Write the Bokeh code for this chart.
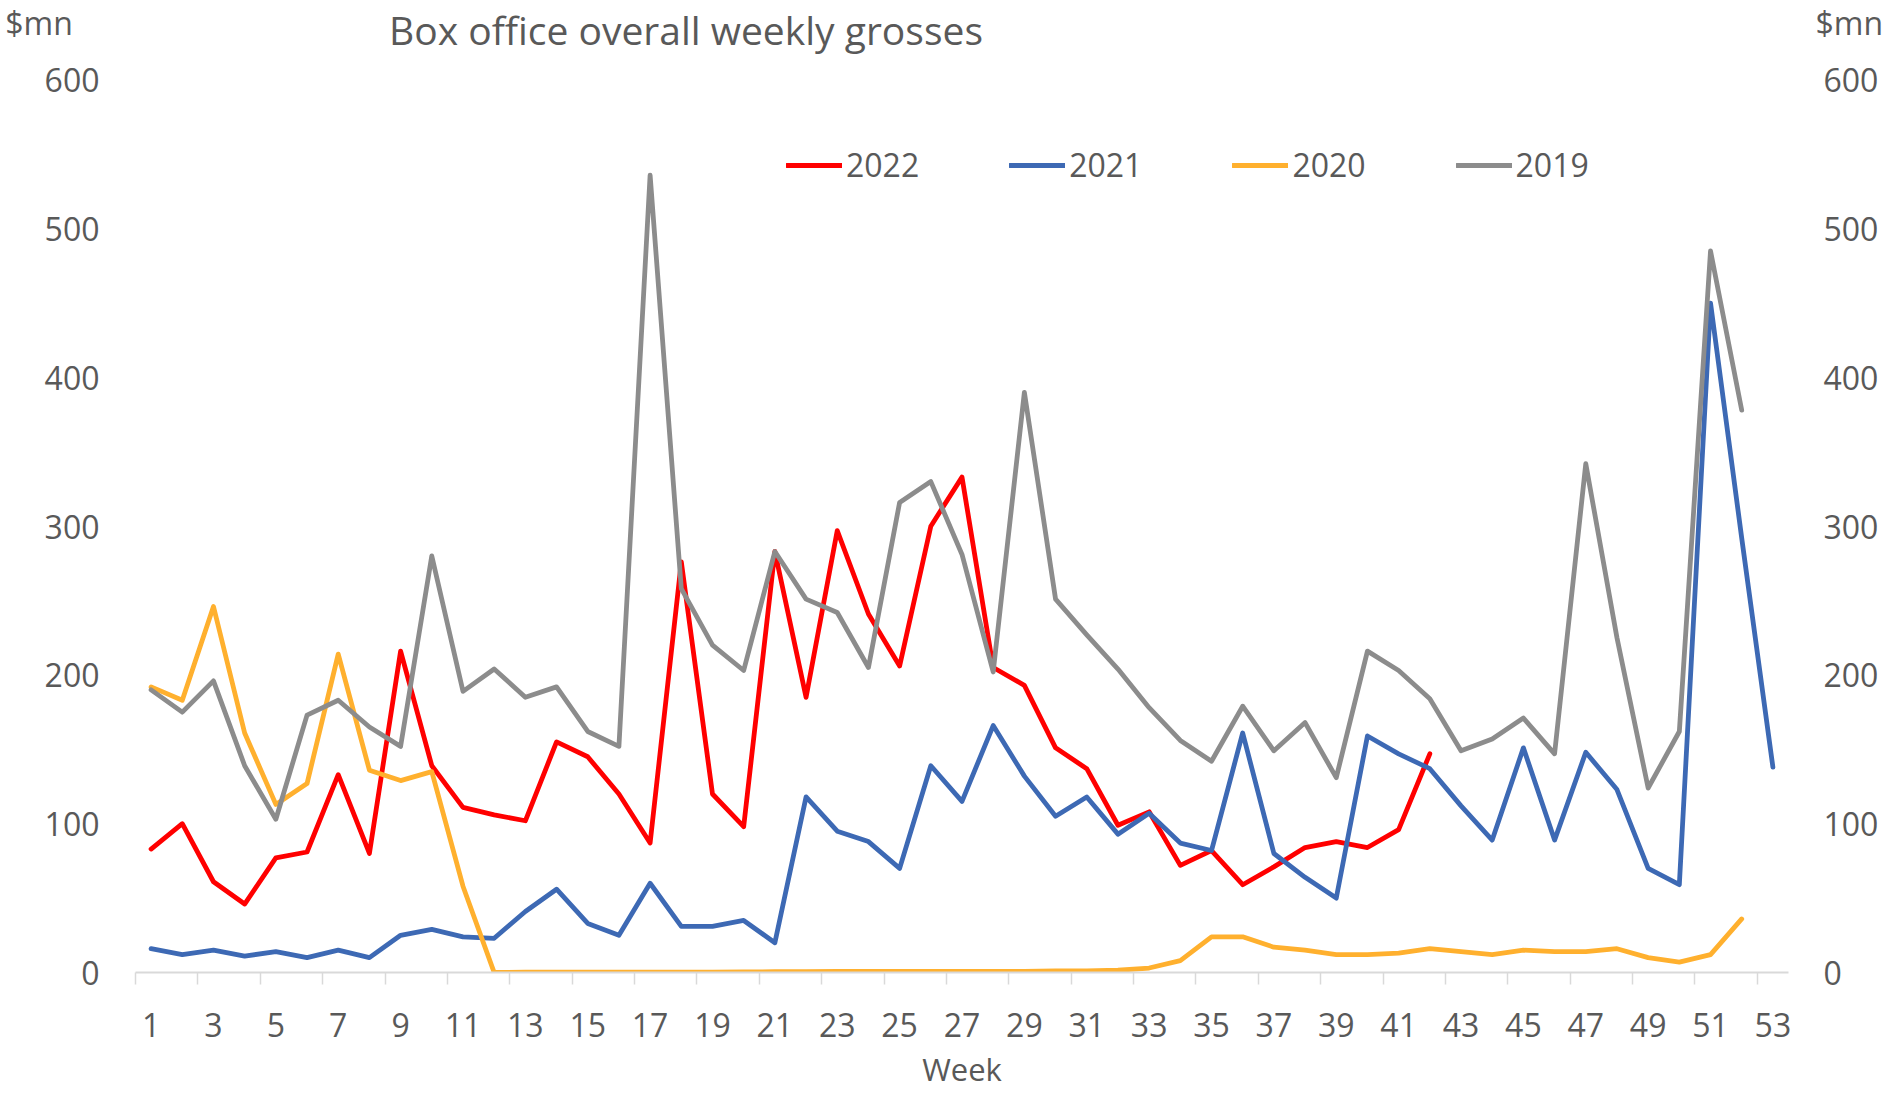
from bokeh.plotting import figure
from bokeh.models import (LinearAxis, FixedTicker, Range1d, Label, Legend, LegendItem)
from bokeh.embed import file_html
from bokeh.resources import INLINE

# ---------------- data ----------------
weeks_2022 = list(range(1, 43))
gross_2022 = [83, 100, 61, 46, 77, 81, 133, 80, 216, 139, 111, 106, 102, 155, 145, 120,
              87, 276, 120, 98, 283, 185, 297, 241, 206, 300, 333, 205, 193, 151, 137, 99,
              108, 72, 82, 59, 71, 84, 88, 84, 96, 147]

weeks_2021 = list(range(1, 54))
gross_2021 = [16, 12, 15, 11, 14, 10, 15, 10, 25, 29, 24, 23, 41, 56, 33, 25, 60, 31, 31,
              35, 20, 118, 95, 88, 70, 139, 115, 166, 132, 105, 118, 93, 107, 87, 82, 161,
              80, 64, 50, 159, 147, 137, 112, 89, 151, 89, 148, 123, 70, 59, 450, 292, 138]

weeks_2020 = list(range(1, 53))
gross_2020 = [192, 183, 246, 161, 113, 127, 214, 136, 129, 135, 58, 0,
              0.2, 0.2, 0.2, 0.2, 0.3, 0.3, 0.3, 0.4, 0.5, 0.6, 0.8, 0.8, 0.8, 0.7, 0.8,
              0.7, 0.7, 1, 1, 1.5,
              3, 8, 24, 24, 17, 15, 12, 12, 13, 16, 14, 12, 15, 14, 14, 16, 10, 7, 12, 36]

weeks_2019 = list(range(1, 53))
gross_2019 = [190, 175, 196, 139, 103, 173, 183, 165, 152, 280, 189, 204, 185, 192, 162,
              152, 536, 258, 220, 203, 283, 251, 242, 205, 316, 330, 281, 202, 390, 251,
              227, 204, 178, 156, 142, 179, 149, 168, 131, 216, 203, 184, 149, 157, 171,
              147, 342, 225, 124, 162, 485, 378]

series_names = ["2022", "2021", "2020", "2019"]
series_colors = ["#FF0000", "#3D69B4", "#FFB02E", "#8C8C8C"]

x_tick_weeks = list(range(1, 54, 2))
y_ticks = [0, 100, 200, 300, 400, 500, 600]

title_text = "Box office overall weekly grosses"
unit_text = "$mn"
x_title = "Week"

# ---------------- layout constants ----------------
FONT = "Open Sans"
TXT = "#595959"
W, H = 1886, 1094
BL, BR, BT, BB = 135, 98, 0, 122
frame_w = W - BL - BR
frame_h = H - BT - BB
x0, x1 = 0.5, 53.5
y0 = 0
px_per_unit = (972 - 79.4) / 600.0
y1 = y0 + frame_h / px_per_unit

def dx(px):  # canvas px -> data x
    return x0 + (px - BL) * (x1 - x0) / frame_w

def dy(py):  # canvas px -> data y
    return y0 + (H - BB - py) / px_per_unit

unit_pos = 645  # height (in axis units) at which the "$mn" unit captions sit

p = figure(width=W, height=H, x_range=Range1d(x0, x1), y_range=Range1d(y0, y1),
           output_backend="svg", toolbar_location=None,
           x_axis_location=None, y_axis_location=None,
           min_border_left=BL, min_border_right=BR, min_border_top=BT, min_border_bottom=BB)
p.outline_line_color = None
p.grid.visible = False
p.background_fill_color = "white"
p.border_fill_color = "white"

# x axis
xaxis = LinearAxis(ticker=FixedTicker(ticks=x_tick_weeks,
                                      minor_ticks=[w - 0.5 for w in x_tick_weeks]))
xaxis.bounds = (x0, x1)
xaxis.axis_line_color = "#D9D9D9"
xaxis.axis_line_width = 2
xaxis.major_tick_line_color = None
xaxis.major_tick_out = 0
xaxis.major_tick_in = 0
xaxis.minor_tick_line_color = "#D9D9D9"
xaxis.minor_tick_line_width = 1.5
xaxis.minor_tick_out = 12
xaxis.minor_tick_in = 0
xaxis.major_label_standoff = 28
xaxis.major_label_text_font = FONT
xaxis.major_label_text_font_size = "32px"
xaxis.major_label_text_color = TXT
xaxis.axis_label = x_title
xaxis.axis_label_standoff = 8
xaxis.axis_label_text_font = FONT
xaxis.axis_label_text_font_size = "31px"
xaxis.axis_label_text_font_style = "normal"
xaxis.axis_label_text_color = TXT
p.add_layout(xaxis, "below")

# left value axis ("$mn" caption padded so it starts near the left edge)
left_over = {unit_pos: unit_text + "\u2002\u2004"}
# right value axis (numbers nudged right with a narrow space, "$mn" flush)
right_over = {t: "\u2005" + str(t) for t in y_ticks}
right_over[unit_pos] = unit_text

for side, so, over in (("left", 36, left_over), ("right", 27, right_over)):
    ax = LinearAxis(ticker=FixedTicker(ticks=y_ticks + [unit_pos], minor_ticks=[]))
    ax.major_label_overrides = over
    ax.axis_line_color = None
    ax.major_tick_line_color = None
    ax.minor_tick_line_color = None
    ax.major_tick_out = 0
    ax.major_tick_in = 0
    ax.major_label_standoff = so
    ax.major_label_text_font = FONT
    ax.major_label_text_font_size = "32px"
    ax.major_label_text_color = TXT
    p.add_layout(ax, side)

# lines
all_weeks = [weeks_2022, weeks_2021, weeks_2020, weeks_2019]
all_vals = [gross_2022, gross_2021, gross_2020, gross_2019]
renderers = []
for wk, vals, col in zip(all_weeks, all_vals, series_colors):
    r = p.line(wk, vals, line_color=col, line_width=4.8, line_join="round", line_cap="round")
    renderers.append(r)

legend = Legend(items=[LegendItem(label=n, renderers=[r]) for n, r in zip(series_names, renderers)],
                orientation="horizontal", location=(651, 786),
                border_line_color=None, background_fill_alpha=0,
                label_text_font=FONT, label_text_font_size="32px", label_text_color=TXT,
                glyph_width=56, glyph_height=36, label_height=36, label_standoff=4,
                spacing=90, padding=0, margin=0)
p.add_layout(legend, "center")

# title (inside the frame area)
p.add_layout(Label(x=dx(685.5), y=dy(29), text=title_text, text_font=FONT,
                   text_font_size="39px", text_color=TXT, text_align="center",
                   text_baseline="alphabetic"))

open("out.html", "w").write(file_html(p, INLINE))
